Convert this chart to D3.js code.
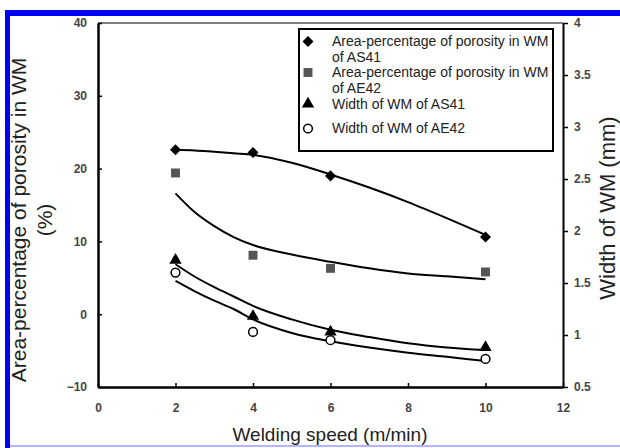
<!DOCTYPE html>
<html>
<head>
<meta charset="utf-8">
<script src="https://cdn.jsdelivr.net/npm/d3@7.9.0/dist/d3.min.js"></script>
<style>
  body { margin: 0; background: #fff; }
  svg { display: block; font-family: "Liberation Sans", Arial, sans-serif; }
</style>
</head>
<body>
<div id="chart"></div>
<script>
// Measured points
const speeds = [2, 4, 6, 10];
const porosityAS41 = [22.6, 22.2, 19.0, 10.6];
const porosityAE42 = [19.4, 8.1, 6.3, 5.8];
const widthAS41 = [1.72, 1.18, 1.03, 0.88];
const widthAE42 = [1.60, 1.03, 0.95, 0.77];

// Trend curves
const trendX = [2, 2.5, 3, 3.5, 4, 5, 6, 7, 8, 9, 10];
const trendPorAS41 = [22.6, 22.5, 22.3, 22.1, 21.9, 20.8, 19.2, 17.4, 15.4, 13.2, 10.9];
const trendPorAE42 = [16.6, 14.0, 12.1, 10.6, 9.5, 8.2, 7.2, 6.3, 5.6, 5.2, 4.8];
const trendWidAS41 = [1.68, 1.56, 1.46, 1.37, 1.28, 1.15, 1.05, 0.98, 0.92, 0.88, 0.855];
const trendWidAE42 = [1.52, 1.42, 1.33, 1.25, 1.15, 1.02, 0.94, 0.88, 0.83, 0.79, 0.75];

// Tick values
const xTicks = [0, 2, 4, 6, 8, 10, 12];
const leftTicks = [-10, 0, 10, 20, 30, 40];
const rightTicks = [0.5, 1, 1.5, 2, 2.5, 3, 3.5, 4];

const legendLabels = [
  ["Area-percentage of porosity in WM", "of AS41"],
  ["Area-percentage of porosity in WM", "of AE42"],
  ["Width of WM of AS41"],
  ["Width of WM of AE42"]
];

const W = 620, H = 448;
const svg = d3.select("#chart").append("svg").attr("width", W).attr("height", H);

// page frame (blue)
svg.append("rect").attr("x", 5).attr("y", 10).attr("width", W - 5).attr("height", 6).attr("fill", "#0000f5");
svg.append("rect").attr("x", 5).attr("y", 10).attr("width", 5).attr("height", H - 10).attr("fill", "#0000f5");
svg.append("rect").attr("x", 10).attr("y", 445).attr("width", W - 10).attr("height", 2).attr("fill", "#b4b4ff");

const x = d3.scaleLinear().domain([0, 12]).range([98, 563]);
const yL = d3.scaleLinear().domain([-10, 40]).range([387, 23]);
const yR = d3.scaleLinear().domain([0.5, 4]).range([387, 23]);

// top border
svg.append("line").attr("x1", 98).attr("x2", 563).attr("y1", 23).attr("y2", 23)
  .attr("stroke", "#555").attr("stroke-width", 1.5);

function styleAxis(g, width) {
  g.select(".domain").attr("stroke", "#000").attr("stroke-width", width);
  g.selectAll(".tick line").attr("stroke", "#000").attr("stroke-width", 1.5);
  g.selectAll(".tick text").attr("font-size", 12).attr("font-weight", "bold").attr("fill", "#444")
    .attr("font-family", "'Liberation Sans Narrow', 'Liberation Sans', sans-serif");
}

svg.append("g").attr("transform", "translate(0,387)")
  .call(d3.axisBottom(x).tickValues(xTicks).tickSizeInner(-4).tickSizeOuter(0).tickPadding(16))
  .call(g => styleAxis(g, 2.5));

svg.append("g").attr("transform", "translate(98,0)")
  .call(d3.axisLeft(yL).tickValues(leftTicks).tickSizeInner(-4).tickSizeOuter(0).tickPadding(11))
  .call(g => styleAxis(g, 2.5));

svg.append("g").attr("transform", "translate(563,0)")
  .call(d3.axisRight(yR).tickValues(rightTicks).tickSizeInner(5).tickSizeOuter(0).tickPadding(6)
    .tickFormat(d3.format("~g")))
  .call(g => styleAxis(g, 2));

// trend lines
const lineL = d3.line().x((d, i) => x(trendX[i])).y(d => yL(d)).curve(d3.curveMonotoneX);
const lineR = d3.line().x((d, i) => x(trendX[i])).y(d => yR(d)).curve(d3.curveMonotoneX);
[[trendPorAS41, lineL], [trendPorAE42, lineL], [trendWidAS41, lineR], [trendWidAE42, lineR]]
  .forEach(([vals, gen]) => {
    svg.append("path").attr("d", gen(vals)).attr("fill", "none")
      .attr("stroke", "#000").attr("stroke-width", 2);
  });

// markers
const sym = {
  diamond: d3.symbol().type(d3.symbolDiamond2).size(78),
  square: d3.symbol().type(d3.symbolSquare).size(80),
  triangle: d3.symbol().type(d3.symbolTriangle).size(66),
  circle: d3.symbol().type(d3.symbolCircle).size(60)
};
function drawMarkers(vals, scale, kind) {
  svg.append("g").selectAll("path").data(vals).join("path")
    .attr("transform", (d, i) => `translate(${x(speeds[i])},${scale(d)})`)
    .attr("d", sym[kind])
    .attr("fill", kind === "square" ? "#555" : kind === "circle" ? "#fff" : "#000")
    .attr("stroke", kind === "circle" ? "#000" : "none")
    .attr("stroke-width", 1.5);
}
drawMarkers(porosityAS41, yL, "diamond");
drawMarkers(porosityAE42, yL, "square");
drawMarkers(widthAS41, yR, "triangle");
drawMarkers(widthAE42, yR, "circle");

// legend
const lg = svg.append("g");
lg.append("rect").attr("x", 299).attr("y", 29).attr("width", 254).attr("height", 122)
  .attr("fill", "#fff").attr("stroke", "#000").attr("stroke-width", 2);
const kinds = ["diamond", "square", "triangle", "circle"];
const rowY = [41.5, 72.5, 104, 128.5];
legendLabels.forEach((lines, i) => {
  const k = kinds[i];
  lg.append("path").attr("transform", `translate(308,${rowY[i]})`).attr("d", sym[k])
    .attr("fill", k === "square" ? "#555" : k === "circle" ? "#fff" : "#000")
    .attr("stroke", k === "circle" ? "#000" : "none").attr("stroke-width", 1.5);
  lines.forEach((t, j) => {
    lg.append("text").attr("x", 332).attr("y", rowY[i] + j * 15.5).attr("dy", "0.35em")
      .attr("font-size", 14).attr("fill", "#222").text(t);
  });
});

// axis titles
svg.append("text").attr("x", 330).attr("y", 434).attr("dy", "0.35em")
  .attr("text-anchor", "middle").attr("font-size", 19).attr("fill", "#222")
  .text("Welding speed (m/min)");

const lt = svg.append("text").attr("transform", "translate(19,220) rotate(-90)")
  .attr("text-anchor", "middle").attr("font-size", 21).attr("fill", "#222");
lt.append("tspan").attr("x", 0).attr("dy", "0.35em").text("Area-percentage of porosity in WM");
lt.append("tspan").attr("x", 0).attr("dy", "1.2em").text("(%)");

svg.append("text").attr("transform", "translate(607,208) rotate(-90)")
  .attr("text-anchor", "middle").attr("dy", "0.35em").attr("font-size", 22).attr("fill", "#222")
  .text("Width of WM (mm)");
</script>
</body>
</html>
